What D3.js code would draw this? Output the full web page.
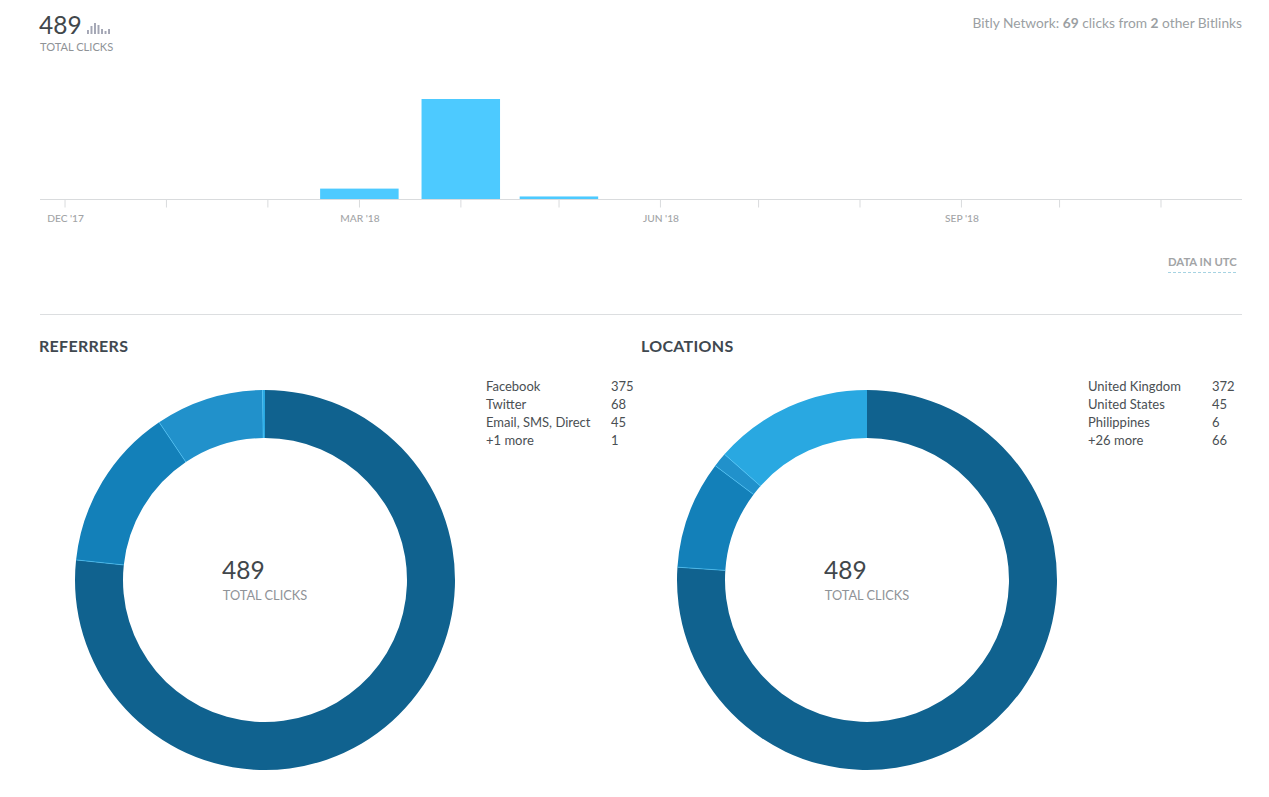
<!DOCTYPE html>
<html lang="en">
<head>
<meta charset="UTF-8">
<title>Bitlink clicks</title>
<script src="https://d3js.org/d3.v7.min.js"></script>
<style>
    html, body { margin: 0; padding: 0; background: #fff; }
    svg { display: block; font-family: Lato, "Open Sans", sans-serif; }
    .muted { fill: #8f9397; }
    .dark { fill: #41474b; }
</style>
</head>
<body>
<svg id="chart" width="1269" height="797"></svg>
<script>
const months = ["2018-03-01", "2018-04-01", "2018-05-01"];
const monthClicks = [45, 433, 11];
const tickMonths = ["2017-12-01", "2018-01-01", "2018-02-01", "2018-03-01", "2018-04-01", "2018-05-01",
    "2018-06-01", "2018-07-01", "2018-08-01", "2018-09-01", "2018-10-01", "2018-11-01"];
const labelledTicks = { "2017-12-01": "DEC '17", "2018-03-01": "MAR '18", "2018-06-01": "JUN '18", "2018-09-01": "SEP '18" };
const sparkValues = [4, 8, 11, 9, 5, 3, 5];

const referrerNames = ["Facebook", "Twitter", "Email, SMS, Direct", "+1 more"];
const referrerClicks = [375, 68, 45, 1];
const locationNames = ["United Kingdom", "United States", "Philippines", "+26 more"];
const locationClicks = [372, 45, 6, 66];
const sliceColors = ["#10628f", "#1380b9", "#2191cb", "#29a8e1"];

const svg = d3.select("#chart");

// header
svg.append("text").attr("class", "dark").attr("x", 39).attr("y", 34).attr("font-size", 24.5).text("489");
svg.append("text").attr("class", "muted").attr("x", 40).attr("y", 51).attr("font-size", 11.1).text("TOTAL CLICKS");

const sparkX = d3.scaleBand().domain(d3.range(sparkValues.length)).range([87, 110]).paddingInner(0.45);
const sparkY = d3.scaleLinear().domain([0, 11]).range([34, 23]);
svg.append("g").selectAll("rect").data(sparkValues).enter().append("rect")
    .attr("x", (d, i) => sparkX(i))
    .attr("y", d => sparkY(d))
    .attr("width", sparkX.bandwidth())
    .attr("height", d => sparkY(0) - sparkY(d))
    .attr("fill", "#a3a6b4");

const network = svg.append("text").attr("x", 1242).attr("y", 28).attr("text-anchor", "end")
    .attr("font-size", 13.75).attr("fill", "#9b9fa3");
network.append("tspan").text("Bitly Network: ");
network.append("tspan").attr("font-weight", 700).text("69");
network.append("tspan").text(" clicks from ");
network.append("tspan").attr("font-weight", 700).text("2");
network.append("tspan").text(" other Bitlinks");

// monthly bars
const x = d3.scaleUtc()
    .domain([new Date("2017-11-23T12:00:00Z"), new Date("2018-11-25T22:00:00Z")])
    .range([40, 1242]);
const y = d3.scaleLinear().domain([0, d3.max(monthClicks)]).range([199, 99]);
const barWidth = 78.5;

svg.append("g").selectAll("rect").data(months).enter().append("rect")
    .attr("x", d => x(new Date(d)) - barWidth / 2 + 0.4)
    .attr("y", (d, i) => y(monthClicks[i]))
    .attr("width", barWidth)
    .attr("height", (d, i) => y(0) - y(monthClicks[i]))
    .attr("fill", "#4dcaff");

const axis = d3.axisBottom(x)
    .tickValues(tickMonths.map(d => new Date(d)))
    .tickSize(8)
    .tickPadding(7)
    .tickFormat(d => labelledTicks[d.toISOString().slice(0, 10)] || "");

const axisG = svg.append("g").attr("transform", "translate(0,199.5)").call(axis);
axisG.select(".domain").attr("stroke", "#d9dbdd").attr("d", "M40,0H1242");
axisG.selectAll(".tick line").attr("stroke", "#d9dbdd");
axisG.selectAll(".tick text")
    .attr("font-family", "Lato, sans-serif")
    .attr("font-size", 10.2)
    .attr("font-weight", 500)
    .attr("dx", 0.5)
    .attr("fill", "#a2a4a6");

svg.append("text").attr("x", 1168).attr("y", 266).attr("font-size", 11.3).attr("font-weight", 700)
    .attr("fill", "#a2a4a6").text("DATA IN UTC");
svg.append("line").attr("x1", 1168).attr("x2", 1237).attr("y1", 272.5).attr("y2", 272.5)
    .attr("stroke", "#a5d3e2").attr("stroke-dasharray", "3 2");

svg.append("line").attr("x1", 40).attr("x2", 1242).attr("y1", 314.5).attr("y2", 314.5).attr("stroke", "#dcdee0");

// donuts
const pie = d3.pie().sort(null);
const arc = d3.arc().innerRadius(142).outerRadius(190);

function drawPanel(title, titleX, cx, names, values, nameX, valueX) {
    svg.append("text").attr("x", titleX).attr("y", 352).attr("font-size", 16).attr("font-weight", 700)
        .attr("letter-spacing", 0.3).attr("fill", "#40484f").text(title);

    const g = svg.append("g").attr("transform", `translate(${cx},580)`);
    const slices = pie(values);
    g.selectAll("path").data(slices).enter().append("path")
        .attr("d", arc)
        .attr("fill", (d, i) => sliceColors[i]);

    // thin lighter seams between slices
    g.selectAll("line").data(slices.slice(0, -1)).enter().append("line")
        .each(function(d) {
            const [x1, y1] = d3.pointRadial(d.endAngle, arc.innerRadius()());
            const [x2, y2] = d3.pointRadial(d.endAngle, arc.outerRadius()());
            d3.select(this).attr("x1", x1).attr("y1", y1).attr("x2", x2).attr("y2", y2);
        })
        .attr("stroke", "#4dcaff")
        .attr("stroke-width", 0.6);

    // the total sits flush with the left edge of its label
    g.append("text").attr("class", "dark").attr("x", -43).attr("y", -1)
        .attr("font-size", 24.5).text(d3.sum(values));
    g.append("text").attr("class", "muted").attr("text-anchor", "middle").attr("y", 20)
        .attr("font-size", 12.8).text("TOTAL CLICKS");

    const rowY = d3.scalePoint().domain(names).range([391, 445]);
    const rows = svg.append("g").selectAll("g").data(names).enter().append("g")
        .attr("font-size", 13).attr("fill", "#4a4f53");
    rows.append("text").attr("x", nameX).attr("y", d => rowY(d)).text(d => d);
    rows.append("text").attr("x", valueX).attr("y", d => rowY(d)).text((d, i) => values[i]);
}

drawPanel("REFERRERS", 39, 265, referrerNames, referrerClicks, 486, 611);
drawPanel("LOCATIONS", 641, 867, locationNames, locationClicks, 1088, 1212);
</script>
</body>
</html>
